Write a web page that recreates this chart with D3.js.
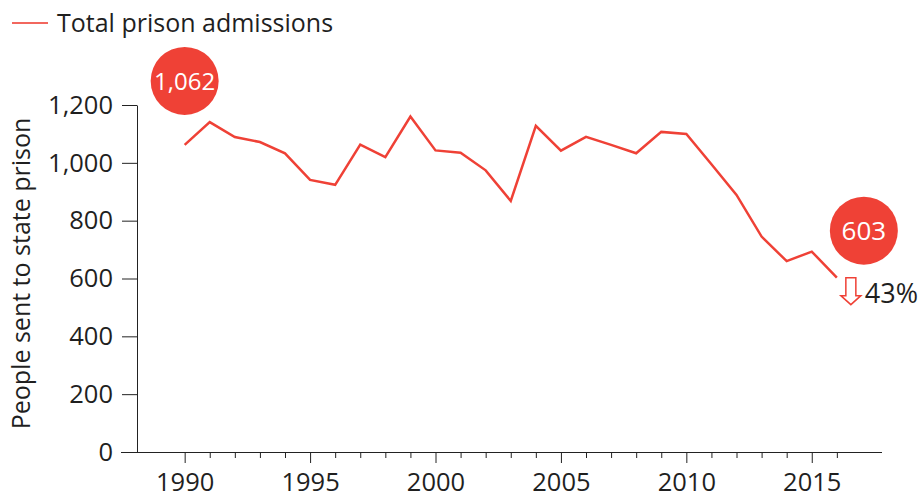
<!DOCTYPE html>
<html>
<head>
<meta charset="utf-8">
<script src="https://cdn.jsdelivr.net/npm/d3@7"></script>
<style>
  body { margin: 0; background: #fff; }
  svg { display: block; font-family: "Open Sans", sans-serif; }
</style>
</head>
<body>
<svg id="chart" width="918" height="498"></svg>
<script>
// Data
const years = d3.range(1990, 2017);
const admissions = [
  1062, 1141, 1089, 1072, 1033, 941, 924, 1063, 1020, 1160,
  1043, 1035, 974, 868, 1128, 1042, 1090, 1062, 1033, 1107,
  1100, 995, 889, 745, 660, 693, 603
];
const yTicks = [0, 200, 400, 600, 800, 1000, 1200];
const xMajorTicks = [1990, 1995, 2000, 2005, 2010, 2015];
const seriesName = "Total prison admissions";
const yLabel = "People sent to state prison";

// Config
const RED = "#ef4136";
const INK = "#1f1f1f";
const FONT = "Open Sans";
const TEXT_SIZE = 25;   // legend, axis title
const NUM_SIZE = 25.5;  // tick labels

const svg = d3.select("#chart");

const x = d3.scaleLinear().domain([1988.1, 2017.8]).range([137, 882]);
const y = d3.scaleLinear().domain([0, 1200]).range([452, 105]);

const data = years.map((yr, i) => ({ year: yr, value: admissions[i] }));

// Y axis
const yAxis = svg.append("g")
  .attr("transform", `translate(${x.range()[0]},0)`)
  .call(d3.axisLeft(y).tickValues(yTicks).tickSize(15).tickSizeOuter(0).tickPadding(9)
    .tickFormat(d3.format(",")));
yAxis.selectAll("text").attr("font-size", NUM_SIZE).attr("fill", INK).style("font-family", FONT);
yAxis.selectAll("line,path").attr("stroke", "#222");
yAxis.select(".tick:first-of-type line").remove();

// X axis (line extends past the y axis)
const xAxis = svg.append("g")
  .attr("transform", `translate(0,${y(0)})`)
  .call(d3.axisBottom(x).tickValues(years).tickSize(6).tickSizeOuter(0).tickFormat(""));
xAxis.select(".domain").attr("d", `M${x.range()[0] - 16},0.5H${x.range()[1]}`);
xAxis.selectAll("line,path").attr("stroke", "#222");
xAxis.selectAll(".tick")
  .filter((d) => xMajorTicks.includes(d))
  .each(function (d) {
    const t = d3.select(this);
    t.select("line").attr("y2", 11);
    t.append("text")
      .attr("y", 39)
      .attr("text-anchor", "middle")
      .attr("font-size", NUM_SIZE)
      .attr("fill", INK)
      .style("font-family", FONT)
      .text(d);
  });

// Y axis title
svg.append("text")
  .attr("transform", `translate(30,${(y(0) + y(1200)) / 2 - 5}) rotate(-90)`)
  .attr("text-anchor", "middle")
  .attr("font-size", TEXT_SIZE)
  .attr("fill", INK)
  .text(yLabel);

// Line
const line = d3.line()
  .x((d) => x(d.year))
  .y((d) => y(d.value));

svg.append("path")
  .datum(data)
  .attr("d", line)
  .attr("fill", "none")
  .attr("stroke", RED)
  .attr("stroke-width", 2.5)
  .attr("stroke-linejoin", "miter");

// Legend
const legend = svg.append("g").attr("transform", "translate(12,23)");
legend.append("line").attr("x1", 0).attr("x2", 36)
  .attr("stroke", RED).attr("stroke-opacity", 0.8).attr("stroke-width", 2);
legend.append("text").attr("x", 45).attr("y", 9)
  .attr("font-size", TEXT_SIZE).attr("fill", INK).text(seriesName);

// Bubbles
const first = data[0];
const last = data[data.length - 1];
function bubble(cx, cy, label, size) {
  svg.append("circle").attr("cx", cx).attr("cy", cy).attr("r", 34).attr("fill", RED);
  svg.append("text").attr("x", cx).attr("y", cy).attr("dy", "0.36em")
    .attr("text-anchor", "middle").attr("font-size", size).attr("fill", "#fff").text(label);
}
bubble(x(first.year), y(first.value) - 64, d3.format(",")(first.value), 24);
bubble(x(last.year) + 27, y(last.value) - 47, d3.format(",")(last.value), 26);

// Change arrow
const pct = Math.round((1 - last.value / first.value) * 100);
const ax = x(last.year) + 14;
const ay = y(last.value);
svg.append("path")
  .attr("d", `M${ax - 5},${ay} H${ax + 5} V${ay + 18} H${ax + 10} L${ax},${ay + 27} L${ax - 10},${ay + 18} H${ax - 5} Z`)
  .attr("fill", "#fff").attr("stroke", RED).attr("stroke-width", 1.5);
svg.append("text").attr("x", ax + 14).attr("y", ay + 25)
  .attr("font-size", 27).attr("fill", INK).text(`${pct}%`);
</script>
</body>
</html>
